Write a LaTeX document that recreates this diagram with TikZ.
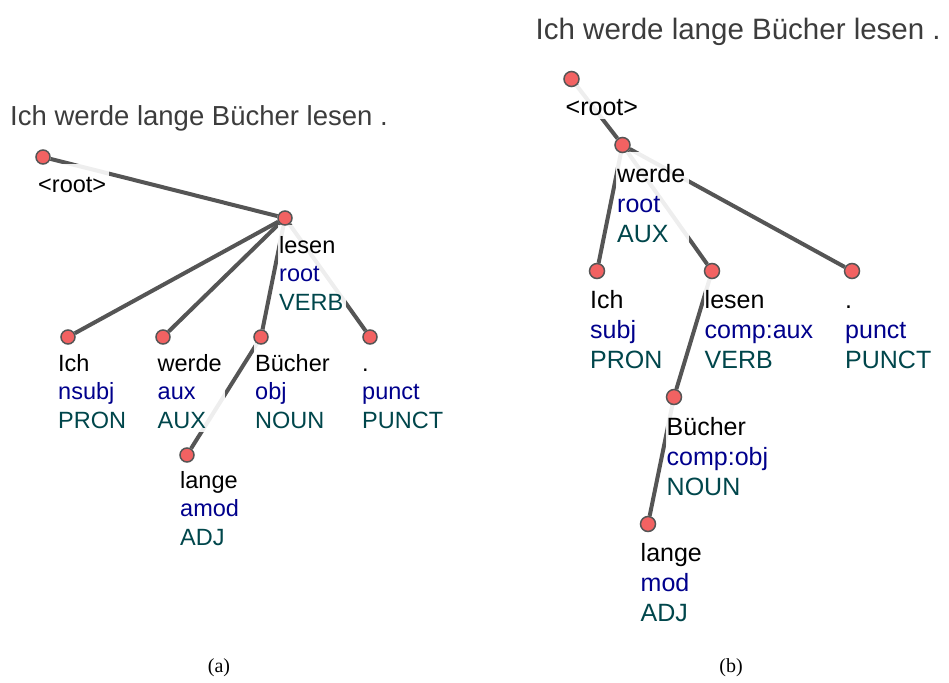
\documentclass[tikz,border=0pt]{standalone}
\usepackage{fontspec}
\newfontfamily\lsans{Liberation Sans}
\newfontfamily\lserif{Liberation Serif}
\usetikzlibrary{fit}
\pgfdeclarelayer{bg}\pgfdeclarelayer{lab}\pgfdeclarelayer{circ}
\pgfsetlayers{bg,lab,circ,main}
\definecolor{edgec}{RGB}{85,85,85}
\definecolor{tokfill}{RGB}{242,98,98}
\definecolor{relc}{RGB}{0,0,140}
\definecolor{posc}{RGB}{0,70,75}
\definecolor{titlec}{RGB}{60,60,60}
\tikzset{
  edge/.style={draw=edgec, line width=4pt},
  tokA/.style={circle, draw=edgec, line width=1.5pt, fill=tokfill, minimum size=14pt, inner sep=0pt},
  tokB/.style={tokA, minimum size=15pt},
  txt/.style={anchor=base west, inner sep=0pt},
  fA/.style={font=\lsans\fontsize{23.5}{28.5}\selectfont},
  fB/.style={font=\lsans\fontsize{25}{30}\selectfont},
  Aw/.style={txt, fA, text=black, text height=28pt, text depth=4.7pt},
  Ad/.style={txt, fA, text=relc, text height=17.6pt, text depth=4.7pt},
  Ap/.style={txt, fA, text=posc, text height=17.6pt, text depth=3.5pt},
  Ar/.style={txt, fA, text=black, text height=28pt, text depth=3.5pt},
  Bw/.style={txt, fB, text=black, text height=30pt, text depth=5pt},
  Bd/.style={txt, fB, text=relc, text height=18.75pt, text depth=5pt},
  Bp/.style={txt, fB, text=posc, text height=18.75pt, text depth=3.75pt},
  Br/.style={txt, fB, text=black, text height=30pt, text depth=3.75pt},
  halo/.style={fill=white, fill opacity=0.9, draw=none, inner xsep=2pt, inner ysep=0pt, xshift=1pt},
  titleA/.style={anchor=base west, inner sep=0pt, text=titlec, font=\lsans\fontsize{27.5}{33}\selectfont},
  titleB/.style={anchor=base west, inner sep=0pt, text=titlec, font=\lsans\fontsize{29.5}{35}\selectfont},
  capt/.style={anchor=base, inner sep=0pt, text=black, font=\lserif\fontsize{20}{24}\selectfont},
}
\newcommand{\tlab}[8]{%
  \node[#5w] (#1w) at (#2,#3) {#6};
  \node[#5d] (#1d) at (#2,#3+#4) {#7};
  \node[#5p] (#1p) at (#2,#3+2*#4) {#8};
  \begin{pgfonlayer}{lab}
    \node[halo, fit=(#1w)(#1d)(#1p)] (#1h) {};
  \end{pgfonlayer}
}
\newcommand{\slab}[5]{%
  \node[#4r] (#1w) at (#2,#3) {#5};
  \begin{pgfonlayer}{lab}
    \node[halo, fit=(#1w)] (#1h) {};
  \end{pgfonlayer}
}
\begin{document}
\begin{tikzpicture}[x=1pt,y=-1pt]
\useasboundingbox (0,0) rectangle (949,682);

% ---------------- (a) ----------------
\node[titleA] (atitle) at (10,125.5) {Ich werde lange Bücher lesen .};
\begin{pgfonlayer}{circ}
\node[tokA] (aroot)  at (43,157) {};
\node[tokA] (alesen) at (285,218) {};
\node[tokA] (aich)   at (68,337) {};
\node[tokA] (awerde) at (163,337) {};
\node[tokA] (abuch)  at (261,337) {};
\node[tokA] (apunct) at (370,337) {};
\node[tokA] (alange) at (187,455) {};
\end{pgfonlayer}
\begin{pgfonlayer}{bg}
\draw[edge] (aroot) -- (alesen);
\draw[edge] (alesen) -- (aich);
\draw[edge] (alesen) -- (awerde);
\draw[edge] (alesen) -- (abuch);
\draw[edge] (alesen) -- (apunct);
\draw[edge] (abuch) -- (alange);
\end{pgfonlayer}
\slab{arootl}{38}{192}{A}{<root>}
\tlab{alesenl}{279}{253}{28.5}{A}{lesen}{root}{VERB}
\tlab{aichl}{58}{371}{28.5}{A}{Ich}{nsubj}{PRON}
\tlab{awerdel}{157.5}{371}{28.5}{A}{werde}{aux}{AUX}
\tlab{abuchl}{255}{371}{28.5}{A}{Bücher}{obj}{NOUN}
\tlab{apunctl}{362}{371}{28.5}{A}{.}{punct}{PUNCT}
\tlab{alangel}{180}{488}{28.5}{A}{lange}{amod}{ADJ}
\node[capt] (acap) at (219,672) {(a)};

% ---------------- (b) ----------------
\node[titleB] (btitle) at (535.5,39.3) {Ich werde lange Bücher lesen .};
\begin{pgfonlayer}{circ}
\node[tokB] (broot)  at (571.5,79) {};
\node[tokB] (bwerde) at (622.5,145) {};
\node[tokB] (bich)   at (597,271) {};
\node[tokB] (blesen) at (712,271) {};
\node[tokB] (bpunct) at (852,271) {};
\node[tokB] (bbuch)  at (674,397) {};
\node[tokB] (blange) at (648,524) {};
\end{pgfonlayer}
\begin{pgfonlayer}{bg}
\draw[edge] (broot) -- (bwerde);
\draw[edge] (bwerde) -- (bich);
\draw[edge] (bwerde) -- (blesen);
\draw[edge] (bwerde) -- (bpunct);
\draw[edge] (blesen) -- (bbuch);
\draw[edge] (bbuch) -- (blange);
\end{pgfonlayer}
\slab{brootl}{565.5}{115}{B}{<root>}
\tlab{bwerdel}{617}{182}{30}{B}{werde}{root}{AUX}
\tlab{bichl}{590}{308}{30}{B}{Ich}{subj}{PRON}
\tlab{blesenl}{704.5}{308}{30}{B}{lesen}{comp:aux}{VERB}
\tlab{bpunctl}{845}{308}{30}{B}{.}{punct}{PUNCT}
\tlab{bbuchl}{666.5}{435}{30}{B}{Bücher}{comp:obj}{NOUN}
\tlab{blangel}{640.5}{561}{30}{B}{lange}{mod}{ADJ}
\node[capt] (bcap) at (731,672) {(b)};
\end{tikzpicture}
\end{document}
